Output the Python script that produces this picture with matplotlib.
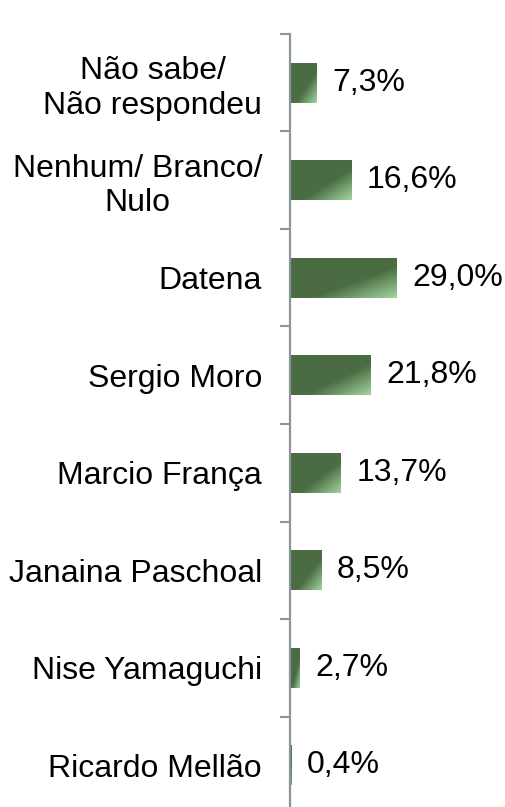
import numpy as np
import matplotlib.pyplot as plt
from matplotlib.colors import to_rgb

plt.rcParams['font.family'] = ['Liberation Sans', 'DejaVu Sans']

categories = ['Não sabe/\nNão respondeu', 'Nenhum/ Branco/\nNulo', 'Datena',
              'Sergio Moro', 'Marcio França', 'Janaina Paschoal',
              'Nise Yamaguchi', 'Ricardo Mellão']
values = [7.3, 16.6, 29.0, 21.8, 13.7, 8.5, 2.7, 0.4]
labels = ['7,3%', '16,6%', '29,0%', '21,8%', '13,7%', '8,5%', '2,7%', '0,4%']

dark = np.array(to_rgb('#4b6c43'))
light = np.array(to_rgb('#a2d6a0'))
axis_grey = '#8b939b'

fig = plt.figure(figsize=(5.05, 8.07), dpi=100)
ax = fig.add_axes([0.574, -0.0087, 0.365, 0.9666])

# diagonal gradient, dark over most of the bar, light in the lower right corner
nx, ny = 200, 60
u = np.linspace(0, 1, nx)[None, :]
v = np.linspace(0, 1, ny)[:, None]
s = (u + v) / 2
t = np.clip((s - 0.6) / 0.4, 0, 1)[..., None]
grad = dark * (1 - t) + light * t

h = 0.41
ind = np.arange(len(values))
for i, val in zip(ind, values):
    ax.imshow(grad, extent=(0, val, i + h / 2, i - h / 2), origin='upper',
              aspect='auto', interpolation='bilinear', zorder=2)
    ax.text(val + 4.3, i, labels[categories.index(categories[i])], va='center',
            ha='left', fontsize=23, color='black')

ax.set_xlim(0, 50)
ax.set_ylim(len(values) - 0.5, -0.5)

for side in ['top', 'right', 'bottom']:
    ax.spines[side].set_visible(False)
ax.spines['left'].set_color(axis_grey)
ax.spines['left'].set_linewidth(1.6)
ax.spines['left'].set_zorder(3)

ax.set_xticks([])
ax.set_yticks(np.arange(-0.5, len(values) + 0.5, 1))
ax.set_yticklabels([])
ax.tick_params(axis='y', which='major', length=7.5, width=1.5, color=axis_grey)
ax.set_yticks(ind, minor=True)
ax.set_yticklabels(categories, minor=True, fontsize=23, multialignment='center')
ax.tick_params(axis='y', which='minor', length=0, pad=20)

fig.savefig('out.png', dpi=100)
